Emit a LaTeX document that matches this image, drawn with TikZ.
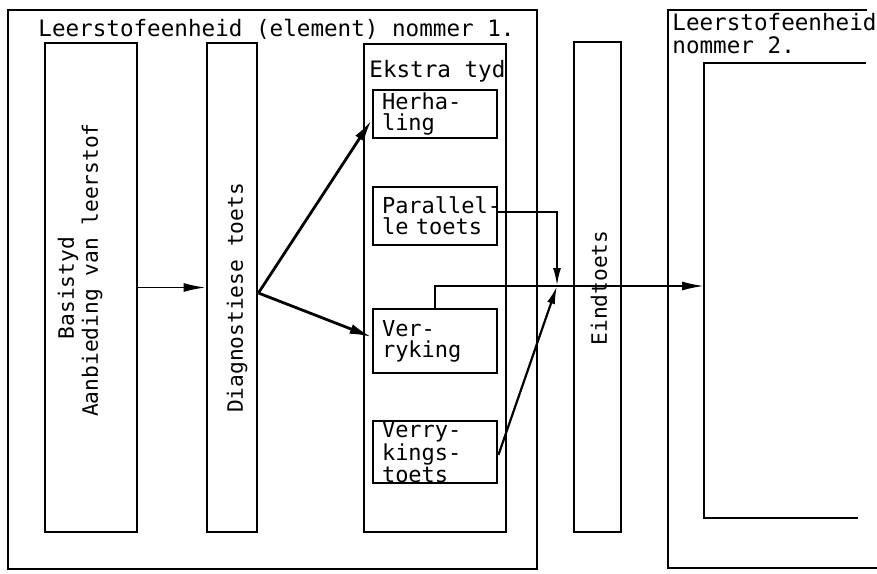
\documentclass[tikz,border=0pt]{standalone}
\usepackage{fontspec}
\setmonofont{DejaVu Sans Mono}
\usetikzlibrary{arrows.meta}
\begin{document}
\begin{tikzpicture}[x=0.5pt, y=-0.5pt,
  fr/.style={draw=black, line width=1.4pt, inner sep=0pt},
  col/.style={fr, rectangle, minimum height=244.5pt},
  sub/.style={fr, minimum width=62pt, text width=53pt, inner xsep=4.5pt, align=left,
    font=\ttfamily\fontsize{11}{10.5}\selectfont},
  lbl/.style={inner sep=0pt, font=\ttfamily\fontsize{11.3}{12}\selectfont},
  vlbl/.style={inner sep=0pt, rotate=90, align=center, font=\ttfamily\fontsize{10.6}{12}\selectfont},
  c/.style={line width=0.9pt},
  arr/.style={c, -{Latex[length=11pt,width=4.5pt]}},
  sarr/.style={c, line width=1.1pt, -{Latex[length=9pt,width=4pt]}},
  darr/.style={line width=1.4pt, -{Latex[length=11pt,width=5pt]}}]
\useasboundingbox (0,0) rectangle (877,573);
% element 1
\node[fr, minimum width=264.5pt, minimum height=279.5pt] (el1) at (272.5,289.5) {};
\node[lbl, anchor=base west] (el1t) at (38,36) {Leerstofeenheid (element) nommer 1.};
\node[col, minimum width=46pt] (basis) at (91,287.5) {};
\node[vlbl] (basist) at (80,270) {Basistyd\hspace*{18pt}\\Aanbieding van leerstof};
\node[col, minimum width=25pt] (diag) at (232,287.5) {};
\node[vlbl] (diagt) at (237,298) {Diagnostiese toets};
% extra time
\node[col, minimum width=71pt, minimum height=244pt] (ekstra) at (435,288) {};
\node[lbl, anchor=base west] (ekstrat) at (369,77) {Ekstra tyd};
\node[sub, minimum height=24pt] (herh) at (435,114) {Herha-\\ling};
\node[sub, minimum height=29pt] (par) at (435,216) {\mbox{Parallel-}\\\mbox{le toets}};
\node[sub, minimum height=32pt] (verr) at (435,341) {Ver-\\ryking};
\node[sub, minimum height=26pt, font=\ttfamily\fontsize{11}{8.5}\selectfont] (verrt) at (435,452) {Verry-\\kings-\\toets};
% final test
\node[col, minimum width=23.5pt, minimum height=245pt] (eind) at (597.5,287) {};
\node[vlbl] (eindt) at (599,288) {Eindtoets};
% element 2
\draw[fr] (867,10) -| (668,568) -- (877,568);
\node[lbl, anchor=base west] (el2t) at (672,31) {Leerstofeenheid};
\node[lbl, anchor=base west] (el2n) at (672,53) {nommer 2.};
\draw[fr] (866,63) -| (704,518) -- (858,518);
\coordinate (next) at (704,286);
\coordinate (j) at (557,286);
% flow
\draw[arr] (basis) -- (diag);
\draw[darr] ([yshift=-2.75pt]diag.east) -- ([yshift=-3pt]herh.west);
\draw[darr] ([yshift=-2.75pt]diag.east) -- ([yshift=2pt]verr.west);
\draw[sarr] ([yshift=2pt]par.east) -| (j);
\draw[sarr] ([yshift=-1.5pt]verrt.east) -- (j);
\draw[arr] (verr.north) |- (next);
\end{tikzpicture}
\end{document}
